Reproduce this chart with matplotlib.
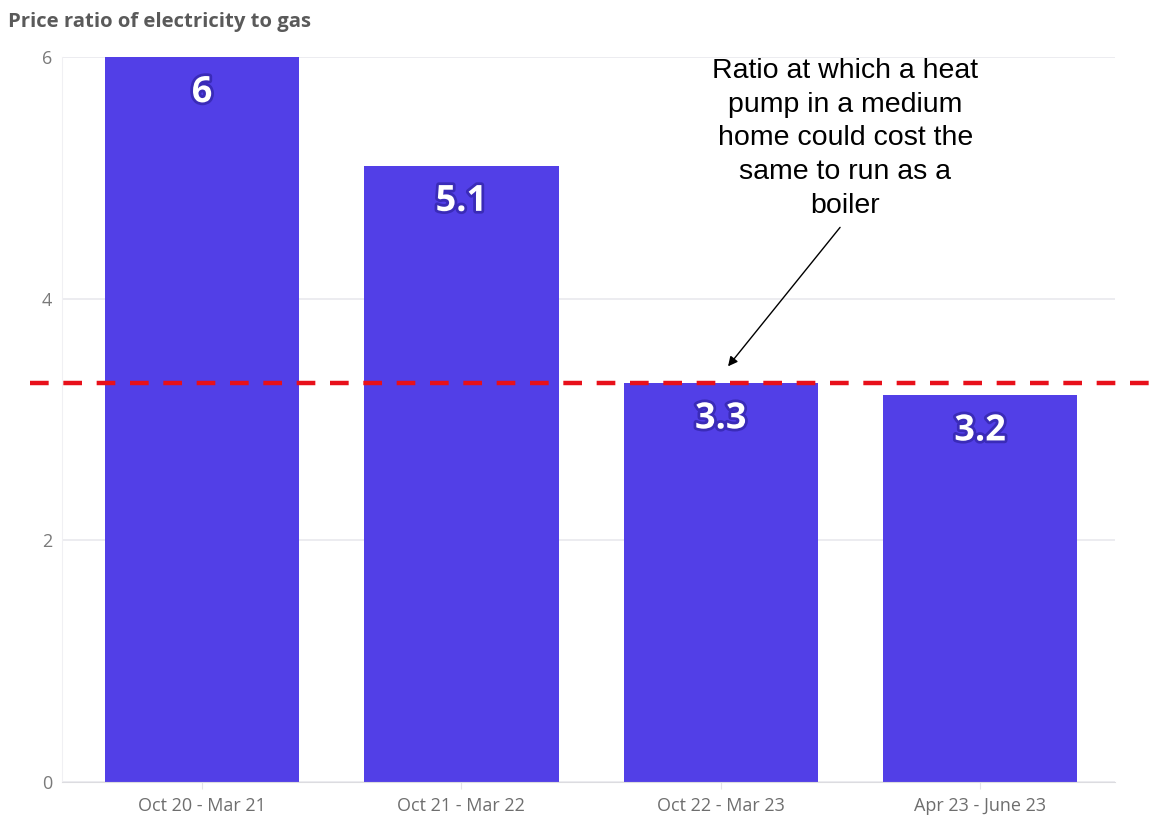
import matplotlib
matplotlib.use("Agg")
import matplotlib.pyplot as plt
import matplotlib.patheffects as pe
from matplotlib.lines import Line2D

# Data
periods = ["Oct 20 - Mar 21", "Oct 21 - Mar 22", "Oct 22 - Mar 23", "Apr 23 - June 23"]
ratios = [6.0, 5.1, 3.3, 3.2]
ratio_labels = ["6", "5.1", "3.3", "3.2"]
breakeven_ratio = 3.3
y_ticks = [0, 2, 4, 6]

W, H = 1157, 818
fig = plt.figure(figsize=(W / 100, H / 100), dpi=100)
ax = fig.add_axes([62 / W, 1 - 782 / H, (1115 - 62) / W, (782 - 57) / H])

bar_color = "#523fe7"
x = list(range(len(periods)))
ax.bar(x, ratios, width=0.75, color=bar_color, zorder=2)

ax.set_xlim(-0.54, 3.52)
ax.set_ylim(0, 6)
ax.set_yticks(y_ticks)
ax.set_yticklabels([str(t) for t in y_ticks])
ax.set_xticks(x)
ax.set_xticklabels(periods)

ax.grid(axis="y", color="#e9e9ee", linewidth=1.2, zorder=0)
for s in ["top", "right"]:
    ax.spines[s].set_visible(False)
ax.spines["left"].set_color("#f0f0f3")
ax.spines["bottom"].set_color("#dcdce0")
ax.tick_params(axis="y", length=0, pad=7, labelsize=13, labelcolor="#7a7a7a")
ax.tick_params(axis="x", length=5, color="#e4e4e8", pad=6, labelsize=13, labelcolor="#6e6e6e")
for lab in ax.get_xticklabels() + ax.get_yticklabels():
    lab.set_family("Open Sans")

# Value labels inside bars
glow = [pe.withStroke(linewidth=4, foreground="#3a2bb8")]
for xi, v, t in zip(x, ratios, ratio_labels):
    ax.annotate(t, (xi, v), xytext=(0, -26), textcoords="offset points",
                ha="center", va="center", color="white", fontsize=26,
                fontweight="bold", family="Open Sans", path_effects=glow, zorder=4)

# Break-even dashed line spanning past the axes
trans = ax.get_yaxis_transform()
ax.add_line(Line2D([-0.03, 1.05], [breakeven_ratio, breakeven_ratio], transform=trans,
                   color="#e8101a", linewidth=3.2, linestyle=(0, (4.2, 3.3)),
                   clip_on=False, zorder=5))

# Annotation text and arrow
ax.text(2.48, 5.99,
        "Ratio at which a heat\npump in a medium\nhome could cost the\nsame to run as a\nboiler",
        ha="center", va="top", fontsize=20.5, family="Liberation Sans",
        linespacing=1.38, color="black", zorder=6)
ax.annotate("", xy=(2.028, 3.44), xytext=(2.46, 4.59),
            arrowprops=dict(arrowstyle="-|>", color="black", lw=1.0,
                            mutation_scale=14, shrinkA=0, shrinkB=0),
            zorder=6)

fig.text(8 / W, 1 - 22 / H, "Price ratio of electricity to gas", ha="left", va="center",
         fontsize=14.6, fontweight="bold", color="#5a5a5a", family="Open Sans")

fig.savefig("out.png", dpi=100, facecolor="white")
